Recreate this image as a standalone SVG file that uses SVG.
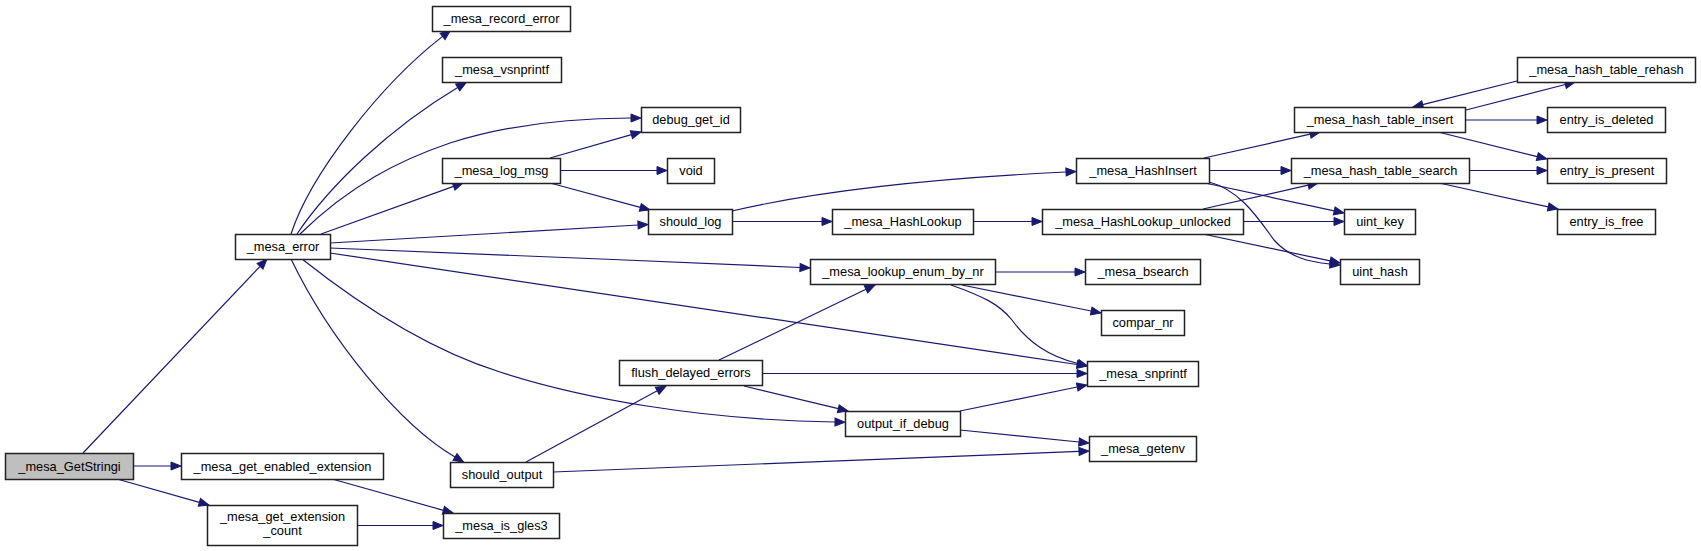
<svg xmlns="http://www.w3.org/2000/svg" width="1701" height="551" viewBox="0 0 1701 551">
<style>
.n rect{fill:#ffffff;stroke:#222222;stroke-width:1.5}
.n text{font-family:"Liberation Sans",Arial,sans-serif;font-size:12.8px;fill:#000000;text-anchor:middle}
.e path{fill:none;stroke:#191970;stroke-width:1.2}
</style>
<defs>
<marker id="ah" markerWidth="12" markerHeight="9" refX="0" refY="4" orient="auto" markerUnits="userSpaceOnUse" overflow="visible">
<path d="M0,0 L10,4 L0,8 z" fill="#191970" stroke="#191970" stroke-width="1"/>
</marker>
</defs>
<rect width="1701" height="551" fill="#ffffff"/>
<g id="edges" class="e">
<path marker-end="url(#ah)" d="M83,453 L260.1,266.3"/>
<path marker-end="url(#ah)" d="M133,466 L171,466"/>
<path marker-end="url(#ah)" d="M117,479 L199.4,502.3"/>
<path marker-end="url(#ah)" d="M332,479 L443.4,510.3"/>
<path marker-end="url(#ah)" d="M357,525.5 L433,525.5"/>
<path marker-end="url(#ah)" d="M321,234 L453.6,186.4"/>
<path marker-end="url(#ah)" d="M550,158 L631.4,134.7"/>
<path marker-end="url(#ah)" d="M560,170.5 L657,170.5"/>
<path marker-end="url(#ah)" d="M550,183 L640.3,207.4"/>
<path marker-end="url(#ah)" d="M732,221.5 L822,221.5"/>
<path marker-end="url(#ah)" d="M973,221.5 L1032,221.5"/>
<path marker-end="url(#ah)" d="M1204,158 L1310.2,134.2"/>
<path marker-end="url(#ah)" d="M1209,170.5 L1281,170.5"/>
<path marker-end="url(#ah)" d="M1205,183 L1334.2,210.9"/>
<path marker-end="url(#ah)" d="M1203,209 L1308.2,185.2"/>
<path marker-end="url(#ah)" d="M1243,221.5 L1334,221.5"/>
<path marker-end="url(#ah)" d="M1203,234 L1330.2,260.9"/>
<path marker-end="url(#ah)" d="M1466,110 L1565.3,84.5"/>
<path marker-end="url(#ah)" d="M1517,81 L1422.7,104.6"/>
<path marker-end="url(#ah)" d="M1465,120 L1537,120"/>
<path marker-end="url(#ah)" d="M1438,132 L1537.3,156.6"/>
<path marker-end="url(#ah)" d="M1469,170.5 L1537,170.5"/>
<path marker-end="url(#ah)" d="M1439,183 L1548.2,206.9"/>
<path marker-end="url(#ah)" d="M995,272 L1075,272"/>
<path marker-end="url(#ah)" d="M962,285 L1091.2,311"/>
<path marker-end="url(#ah)" d="M719,360 L866,289.3"/>
<path marker-end="url(#ah)" d="M762,373.5 L1077,373.5"/>
<path marker-end="url(#ah)" d="M744,386 L838.3,408.7"/>
<path marker-end="url(#ah)" d="M960,411 L1077.2,387"/>
<path marker-end="url(#ah)" d="M960,430 L1079,442"/>
<path marker-end="url(#ah)" d="M526,462 L657.2,390.8"/>
<path marker-end="url(#ah)" d="M553,472 L1079,451.4"/>
<path marker-end="url(#ah)" d="M330,253 L1077.1,364.5"/>
<path marker-end="url(#ah)" d="M291,234 C310,175 380,85 442.6,36.4"/>
<path marker-end="url(#ah)" d="M297,234 C330,185 390,128 457.7,87.5"/>
<path marker-end="url(#ah)" d="M300,234 C350,185 400,160 450,143 C510,124 570,118 631,118"/>
<path marker-end="url(#ah)" d="M330,243 C450,236 560,229 638,225"/>
<path marker-end="url(#ah)" d="M330,248 C460,253 650,261 800,267.5"/>
<path marker-end="url(#ah)" d="M302,259 C360,305 430,350 500,372 C580,398 700,420 835,422"/>
<path marker-end="url(#ah)" d="M291,259 C330,340 400,425 455,457"/>
<path marker-end="url(#ah)" d="M732,211 C800,195 900,180 1066,172"/>
<path marker-end="url(#ah)" d="M951,285 C985,297 1000,305 1012,320 C1028,342 1048,356 1078,363.5"/>
<path marker-end="url(#ah)" d="M1209,182 C1240,190 1258,218 1274,240 C1290,258 1310,262 1330,264"/>
</g>
<g id="n_GetStringi" class="n"><rect x="5.5" y="453.5" width="128" height="26" style="fill:#bfbfbf"/><text x="69.5" y="470.5">_mesa_GetStringi</text></g>
<g id="n_error" class="n"><rect x="235.5" y="234.5" width="95" height="25"/><text x="283" y="251">_mesa_error</text></g>
<g id="n_get_enabled_extension" class="n"><rect x="181.5" y="453.5" width="202" height="26"/><text x="282.5" y="470.5">_mesa_get_enabled_extension</text></g>
<g id="n_get_extension_count" class="n"><rect x="207.5" y="505.5" width="150" height="40"/><text x="282.5" y="521">_mesa_get_extension</text><text x="282.5" y="535">_count</text></g>
<g id="n_record_error" class="n"><rect x="432.5" y="6.5" width="138" height="25"/><text x="501.5" y="23">_mesa_record_error</text></g>
<g id="n_vsnprintf" class="n"><rect x="442.5" y="57.5" width="119" height="25"/><text x="502" y="74">_mesa_vsnprintf</text></g>
<g id="n_log_msg" class="n"><rect x="442.5" y="158.5" width="118" height="25"/><text x="501.5" y="175">_mesa_log_msg</text></g>
<g id="n_should_output" class="n"><rect x="450.5" y="462.5" width="103" height="25"/><text x="502" y="479">should_output</text></g>
<g id="n_is_gles3" class="n"><rect x="443.5" y="513.5" width="116" height="25"/><text x="501.5" y="530">_mesa_is_gles3</text></g>
<g id="n_debug_get_id" class="n"><rect x="641.5" y="107.5" width="99" height="25"/><text x="691" y="124">debug_get_id</text></g>
<g id="n_void" class="n"><rect x="667.5" y="158.5" width="47" height="25"/><text x="691" y="175">void</text></g>
<g id="n_should_log" class="n"><rect x="648.5" y="209.5" width="84" height="25"/><text x="690.5" y="226">should_log</text></g>
<g id="n_flush_delayed_errors" class="n"><rect x="619.5" y="360.5" width="143" height="25"/><text x="691" y="377">flush_delayed_errors</text></g>
<g id="n_lookup_enum_by_nr" class="n"><rect x="810.5" y="259.5" width="185" height="25"/><text x="903" y="276">_mesa_lookup_enum_by_nr</text></g>
<g id="n_HashLookup" class="n"><rect x="832.5" y="209.5" width="141" height="25"/><text x="903" y="226">_mesa_HashLookup</text></g>
<g id="n_output_if_debug" class="n"><rect x="845.5" y="411.5" width="115" height="25"/><text x="903" y="428">output_if_debug</text></g>
<g id="n_HashInsert" class="n"><rect x="1076.5" y="158.5" width="133" height="25"/><text x="1143" y="175">_mesa_HashInsert</text></g>
<g id="n_HashLookup_unlocked" class="n"><rect x="1042.5" y="209.5" width="201" height="25"/><text x="1143" y="226">_mesa_HashLookup_unlocked</text></g>
<g id="n_bsearch" class="n"><rect x="1085.5" y="259.5" width="115" height="25"/><text x="1143" y="276">_mesa_bsearch</text></g>
<g id="n_compar_nr" class="n"><rect x="1101.5" y="310.5" width="83" height="25"/><text x="1143" y="327">compar_nr</text></g>
<g id="n_snprintf" class="n"><rect x="1087.5" y="361.5" width="111" height="25"/><text x="1143" y="378">_mesa_snprintf</text></g>
<g id="n_getenv" class="n"><rect x="1089.5" y="436.5" width="107" height="25"/><text x="1143" y="453">_mesa_getenv</text></g>
<g id="n_hash_table_insert" class="n"><rect x="1294.5" y="107.5" width="171" height="25"/><text x="1380" y="124">_mesa_hash_table_insert</text></g>
<g id="n_hash_table_search" class="n"><rect x="1291.5" y="158.5" width="178" height="25"/><text x="1380.5" y="175">_mesa_hash_table_search</text></g>
<g id="n_uint_key" class="n"><rect x="1344.5" y="209.5" width="71" height="25"/><text x="1380" y="226">uint_key</text></g>
<g id="n_uint_hash" class="n"><rect x="1340.5" y="259.5" width="79" height="25"/><text x="1380" y="276">uint_hash</text></g>
<g id="n_hash_table_rehash" class="n"><rect x="1517.5" y="57.5" width="178" height="25"/><text x="1606.5" y="74">_mesa_hash_table_rehash</text></g>
<g id="n_entry_is_deleted" class="n"><rect x="1547.5" y="107.5" width="118" height="25"/><text x="1606.5" y="124">entry_is_deleted</text></g>
<g id="n_entry_is_present" class="n"><rect x="1547.5" y="158.5" width="119" height="25"/><text x="1607" y="175">entry_is_present</text></g>
<g id="n_entry_is_free" class="n"><rect x="1557.5" y="209.5" width="98" height="25"/><text x="1606.5" y="226">entry_is_free</text></g>
</svg>
